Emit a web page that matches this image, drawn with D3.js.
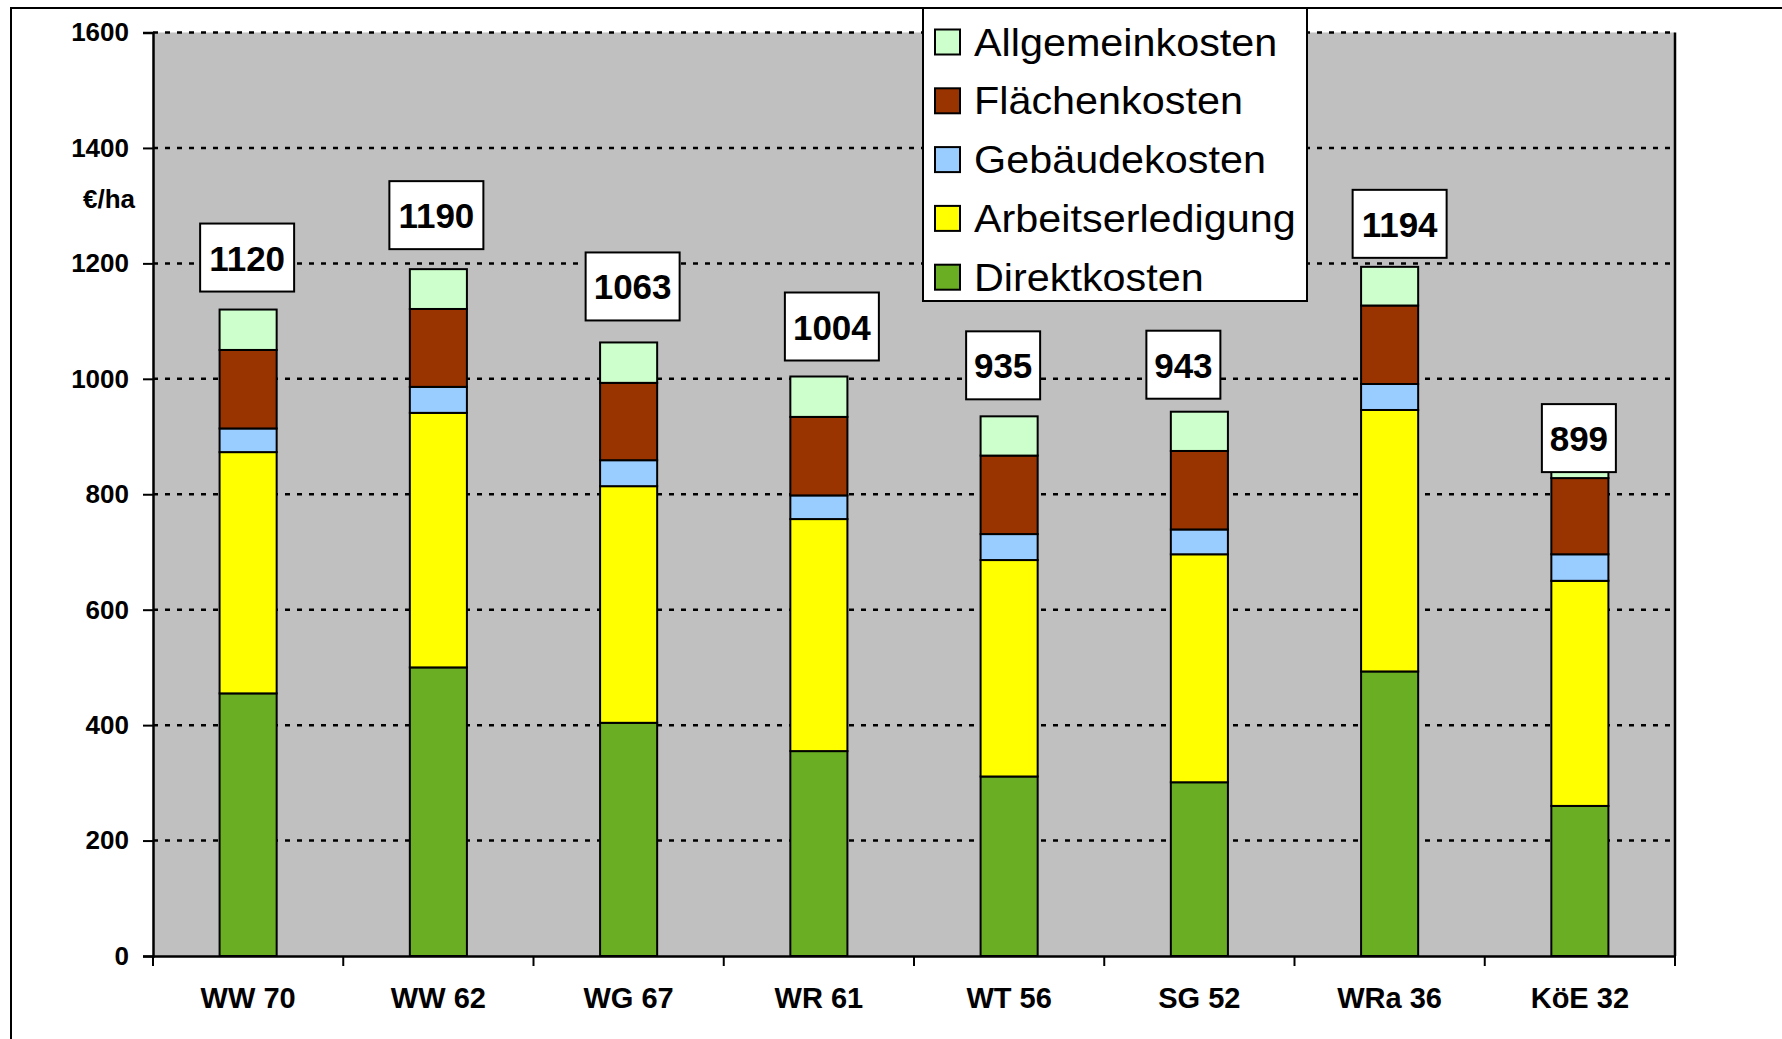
<!DOCTYPE html>
<html>
<head>
<meta charset="utf-8">
<script src="https://cdn.jsdelivr.net/npm/d3@7"></script>
<style>
  html, body { margin: 0; padding: 0; background: #fff; }
  svg { display: block; font-family: "Liberation Sans", Arial, Helvetica, sans-serif; }
</style>
</head>
<body>
<svg id="chart" width="1782" height="1039"></svg>
<script>
// ---- data ----
const categories = ["WW 70", "WW 62", "WG 67", "WR 61", "WT 56", "SG 52", "WRa 36", "KöE 32"];
const direktkosten      = [455, 500, 404, 355, 311, 301, 493, 260];
const arbeitserledigung = [418, 441, 410, 402, 375, 395, 453, 390];
const gebaeudekosten    = [41, 45, 45, 41, 45, 43, 45, 46];
const flaechenkosten    = [136, 135, 134, 136, 136, 136, 136, 132];
const allgemeinkosten   = [70, 69, 70, 70, 68, 68, 67, 71];
const totals            = [1120, 1190, 1063, 1004, 935, 943, 1194, 899];
const seriesNames = ["Direktkosten", "Arbeitserledigung", "Gebäudekosten", "Flächenkosten", "Allgemeinkosten"];
const yTicks = [0, 200, 400, 600, 800, 1000, 1200, 1400, 1600];
const yUnit = "€/ha";

// ---- layout / style ----
const colors = ["#6AAF23", "#FFFF00", "#99CCFF", "#993300", "#CCFFCC"];
const plot = { left: 153, right: 1675, top: 32.5, bottom: 956 };
const labelLift = [52, 54, 56, 50, 51, 47, 43, -1];   // label box centre above bar top (px)
const labelShift = [-1, -2, 4, 13, -6, -16, 10, -1];  // horizontal nudge (px)

const svg = d3.select("#chart");

// outer frame (only top/left visible in reference)
svg.append("rect").attr("x", 11).attr("y", 8).attr("width", 1900).attr("height", 1200)
  .attr("fill", "#fff").attr("stroke", "#000").attr("stroke-width", 2);

const x = d3.scaleBand().domain(categories).range([plot.left, plot.right]).padding(0);
const y = d3.scaleLinear().domain([0, 1600]).range([plot.bottom, plot.top]);

// plot background
svg.append("rect").attr("x", plot.left).attr("y", plot.top)
  .attr("width", plot.right - plot.left).attr("height", plot.bottom - plot.top)
  .attr("fill", "#C0C0C0");

// gridlines
svg.append("g").selectAll("line").data(yTicks.filter(d => d > 0)).join("line")
  .attr("x1", plot.left).attr("x2", plot.right)
  .attr("y1", d => y(d)).attr("y2", d => y(d))
  .attr("stroke", "#000").attr("stroke-width", 2.5).attr("stroke-dasharray", "5,7");

// right border of plot
svg.append("line").attr("x1", plot.right).attr("x2", plot.right)
  .attr("y1", plot.top).attr("y2", plot.bottom).attr("stroke", "#000").attr("stroke-width", 2.5);

// stacked bars
const seriesArrays = [direktkosten, arbeitserledigung, gebaeudekosten, flaechenkosten, allgemeinkosten];
const rows = categories.map((c, i) => {
  const r = { cat: c };
  seriesNames.forEach((s, k) => r[s] = seriesArrays[k][i]);
  return r;
});
const stack = d3.stack().keys(seriesNames)(rows);
const barW = x.bandwidth() * 0.3;

svg.append("g").selectAll("g").data(stack).join("g")
  .attr("fill", (d, k) => colors[k])
  .selectAll("rect").data(d => d).join("rect")
  .attr("x", d => x(d.data.cat) + (x.bandwidth() - barW) / 2)
  .attr("width", barW)
  .attr("y", d => y(d[1]))
  .attr("height", d => y(d[0]) - y(d[1]))
  .attr("stroke", "#000").attr("stroke-width", 2);

// y axis
const yAxis = d3.axisLeft(y).tickValues(yTicks).tickFormat(d3.format("d")).tickSize(10).tickPadding(14);
const yg = svg.append("g").attr("transform", `translate(${plot.left},0)`).call(yAxis);
yg.select(".domain").attr("stroke", "#000").attr("stroke-width", 2.5);
yg.selectAll(".tick line").attr("stroke", "#000").attr("stroke-width", 2);
yg.selectAll(".tick text").attr("fill", "#000").attr("font-size", 26).attr("font-weight", "bold")
  .attr("font-family", "'Liberation Sans', Arial, sans-serif");

svg.append("text").attr("x", 135).attr("y", 208).attr("text-anchor", "end")
  .attr("font-size", 26).attr("font-weight", "bold").text(yUnit);

// x axis
const xg = svg.append("g").attr("transform", `translate(0,${plot.bottom})`)
  .call(d3.axisBottom(x).tickSize(0).tickPadding(0));
xg.select(".domain").attr("stroke", "#000").attr("stroke-width", 2.5);
xg.selectAll(".tick text").remove();
const bounds = categories.map(c => x(c)).concat([plot.right]);
xg.selectAll("line.bound").data(bounds).join("line").attr("class", "bound")
  .attr("x1", d => d).attr("x2", d => d).attr("y1", 0).attr("y2", 10)
  .attr("stroke", "#000").attr("stroke-width", 2);
svg.append("g").selectAll("text").data(categories).join("text")
  .attr("x", d => x(d) + x.bandwidth() / 2).attr("y", 1008)
  .attr("text-anchor", "middle").attr("font-size", 29).attr("font-weight", "bold")
  .text(d => d);

// total labels
const lbl = svg.append("g").selectAll("g").data(categories).join("g")
  .attr("transform", (d, i) => `translate(${x(d) + x.bandwidth() / 2 + labelShift[i]},${y(totals[i]) - labelLift[i]})`);
lbl.append("rect")
  .attr("x", (d, i) => String(totals[i]).length > 3 ? -47 : -37)
  .attr("width", (d, i) => String(totals[i]).length > 3 ? 94 : 74)
  .attr("y", -34).attr("height", 68)
  .attr("fill", "#fff").attr("stroke", "#000").attr("stroke-width", 2);
lbl.append("text").attr("text-anchor", "middle").attr("y", 13)
  .attr("font-size", 35).attr("font-weight", "bold").text((d, i) => totals[i]);

// legend
const leg = svg.append("g");
leg.append("rect").attr("x", 923).attr("y", 8).attr("width", 384).attr("height", 293)
  .attr("fill", "#fff").attr("stroke", "#000").attr("stroke-width", 2);
const legOrder = [4, 3, 2, 1, 0];
const li = leg.selectAll("g.item").data(legOrder).join("g").attr("class", "item")
  .attr("transform", (d, j) => `translate(935,${42 + j * 58.8})`);
li.append("rect").attr("x", 0).attr("y", -12.5).attr("width", 25).attr("height", 25)
  .attr("fill", d => colors[d]).attr("stroke", "#000").attr("stroke-width", 2);
li.append("text").attr("x", 39).attr("y", 13.5).attr("font-size", 39)
  .text(d => seriesNames[d])
  .each(function () {
    const w = this.getComputedTextLength();
    d3.select(this).attr("textLength", w * 1.06).attr("lengthAdjust", "spacingAndGlyphs");
  });
</script>
</body>
</html>
